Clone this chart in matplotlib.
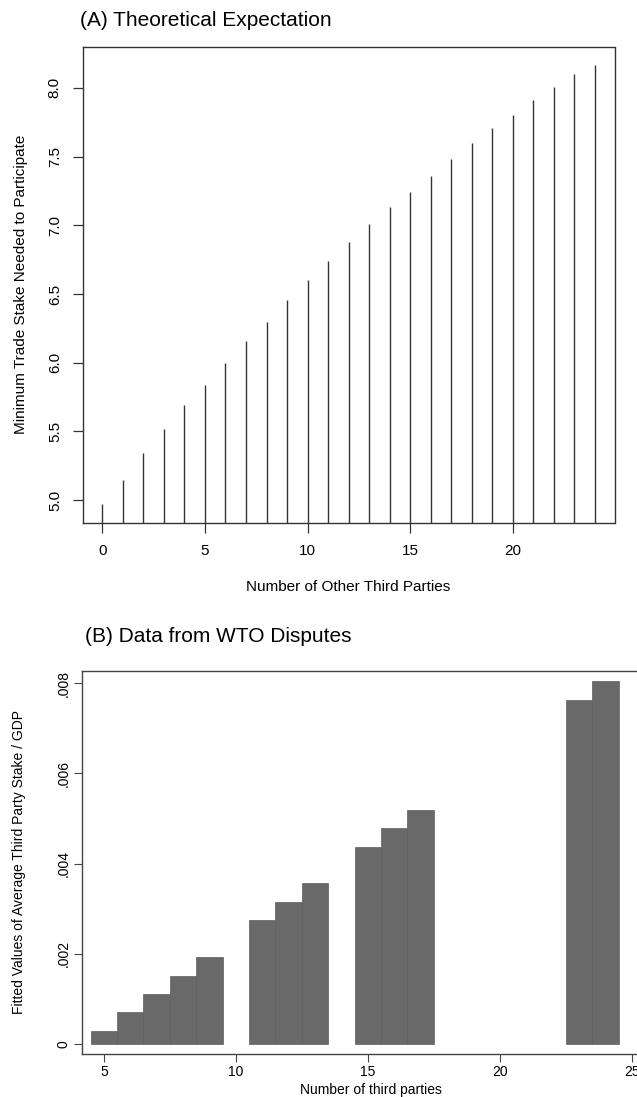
import matplotlib
matplotlib.use("Agg")
import matplotlib.pyplot as plt

plt.rcParams['font.family'] = ['Liberation Sans', 'DejaVu Sans']

# (A) theoretical expectation
other_parties = list(range(25))
min_stake = [4.97, 5.15, 5.34, 5.52, 5.69, 5.84, 6.00, 6.16, 6.30, 6.46,
             6.60, 6.74, 6.88, 7.01, 7.13, 7.24, 7.36, 7.48, 7.60, 7.71,
             7.80, 7.915, 8.01, 8.10, 8.17]

# (B) WTO disputes
n_third = [5, 6, 7, 8, 9, 11, 12, 13, 15, 16, 17, 23, 24]
fitted_stake = [0.00029, 0.00070, 0.00110, 0.00151, 0.00192,
                0.00274, 0.00315, 0.00356,
                0.00437, 0.00478, 0.00519,
                0.00764, 0.00805]

W, H = 637, 1097
fig = plt.figure(figsize=(W / 100, H / 100), dpi=100)


def px_axes(left, top, right, bottom):
    return fig.add_axes((left / W, 1 - bottom / H, (right - left) / W, (bottom - top) / H))


# ---- panel A ----
ax1 = px_axes(82.7, 46.7, 614.5, 522.7)
ax1.vlines(other_parties, 0, min_stake, color='#333333', lw=1.0)
ax1.set_xlim(-0.96, 24.96)
ax1.set_ylim(4.836, 8.30)
ax1.set_xticks([0, 5, 10, 15, 20])
ax1.set_yticks([5.0, 5.5, 6.0, 6.5, 7.0, 7.5, 8.0])
ax1.set_yticklabels(['5.0', '5.5', '6.0', '6.5', '7.0', '7.5', '8.0'],
                    rotation=90, va='center')
ax1.tick_params(direction='out', length=7, width=0.9, color='#333333',
                labelsize=11, pad=8)
for s in ax1.spines.values():
    s.set_color('#333333')
    s.set_linewidth(1.0)
ax1.set_xlabel('Number of Other Third Parties', fontsize=11, labelpad=16)
ax1.set_ylabel('Minimum Trade Stake Needed to Participate', fontsize=11, labelpad=14)
fig.text(80 / W, 1 - 20 / H, '(A) Theoretical Expectation', fontsize=15,
         ha='left', va='center')

# ---- panel B ----
ax2 = px_axes(82, 670.7, 660, 1054)
ax2.bar(n_third, fitted_stake, width=1.0, color='#696969',
        edgecolor='#5e5e5e', linewidth=0.5)
ax2.set_xlim(4.17, 26.07)
ax2.set_ylim(-0.000222, 0.00828)
ax2.set_xticks([5, 10, 15, 20, 25])
ax2.set_yticks([0, 0.002, 0.004, 0.006, 0.008])
ax2.set_yticklabels(['0', '.002', '.004', '.006', '.008'], rotation=90, va='center')
ax2.tick_params(direction='out', length=6, width=0.8, color='#444444',
                labelsize=10, pad=2)
ax2.spines['right'].set_visible(False)
for s in ['left', 'bottom', 'top']:
    ax2.spines[s].set_color('#444444')
    ax2.spines[s].set_linewidth(1.0)
ax2.set_xlabel('Number of third parties', fontsize=10, labelpad=3)
ax2.set_ylabel('Fitted Values of Average Third Party Stake / GDP', fontsize=10,
               labelpad=22)
fig.text(85 / W, 1 - 637 / H, '(B) Data from WTO Disputes', fontsize=15,
         ha='left', va='center')

fig.savefig('out.png', dpi=100)
